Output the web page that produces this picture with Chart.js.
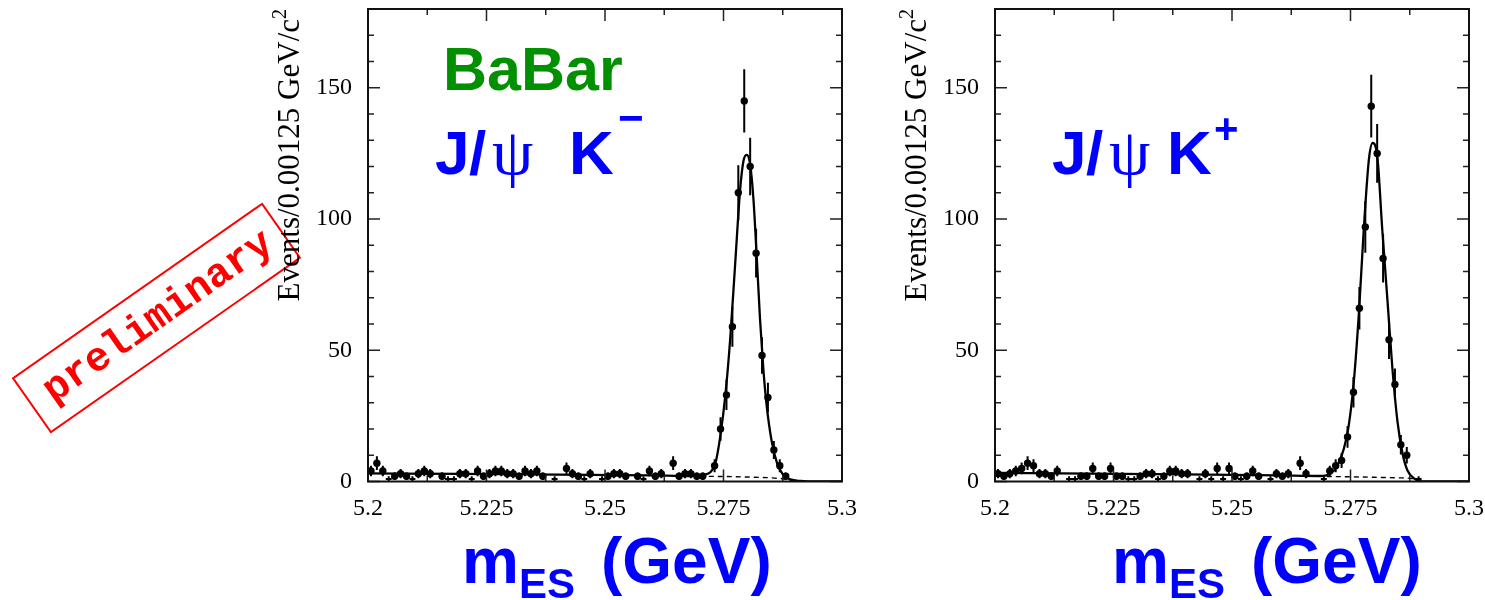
<!DOCTYPE html>
<html>
<head>
<meta charset="utf-8">
<script src="https://cdn.jsdelivr.net/npm/chart.js@4.4.1/dist/chart.umd.min.js"></script>
<style>
body { margin: 0; background: #fff; }
#page { position: relative; width: 1485px; height: 600px; overflow: hidden; background: #fff; }
canvas { position: absolute; top: 0; }
svg { position: absolute; left: 0; top: 0; }
</style>
</head>
<body>
<div id="page">
<canvas id="kminus" width="560" height="530" style="left:300px"></canvas>
<canvas id="kplus" width="560" height="530" style="left:927px"></canvas>
<svg width="1485" height="600">
  <!-- preliminary stamp -->
  <g transform="translate(156.5,318) rotate(-35)">
    <rect x="-152" y="-33" width="304" height="66" fill="none" stroke="#ff0000" stroke-width="2"/>
    <text x="2" y="11" text-anchor="middle" font-family="Liberation Mono" font-weight="bold" font-size="41" fill="#ff0000">preliminary</text>
  </g>
  <!-- axis titles -->
  <text transform="translate(299,9) rotate(-90)" text-anchor="end" font-family="Liberation Serif" font-size="31" fill="#000">Events/0.00125 GeV/c<tspan font-size="20" dy="-13">2</tspan></text>
  <text transform="translate(926,9) rotate(-90)" text-anchor="end" font-family="Liberation Serif" font-size="31" fill="#000">Events/0.00125 GeV/c<tspan font-size="20" dy="-13">2</tspan></text>
  <!-- labels -->
  <text x="443" y="90" font-family="Liberation Sans" font-weight="bold" font-size="61" fill="#009000">BaBar</text>
  <text font-family="Liberation Sans" font-weight="bold" font-size="62" fill="#0000ff"><tspan x="435" y="174">J</tspan><tspan x="469" y="174">/</tspan><tspan x="492" y="174" font-family="Liberation Serif" font-weight="normal" font-size="66">ψ</tspan><tspan x="569" y="174">K</tspan><tspan x="618" y="133" font-size="44">−</tspan></text>
  <text font-family="Liberation Sans" font-weight="bold" font-size="62" fill="#0000ff"><tspan x="1052" y="174">J</tspan><tspan x="1086" y="174">/</tspan><tspan x="1109" y="174" font-family="Liberation Serif" font-weight="normal" font-size="66">ψ</tspan><tspan x="1167" y="174">K</tspan><tspan x="1214" y="143" font-size="42">+</tspan></text>
  <text font-family="Liberation Sans" font-weight="bold" fill="#0000ff"><tspan x="462" y="583" font-size="64">m</tspan><tspan x="519" y="598" font-size="42">ES</tspan><tspan x="601" y="583" font-size="64">(GeV)</tspan></text>
  <text font-family="Liberation Sans" font-weight="bold" fill="#0000ff"><tspan x="1112" y="583" font-size="64">m</tspan><tspan x="1169" y="598" font-size="42">ES</tspan><tspan x="1251" y="583" font-size="64">(GeV)</tspan></text>
</svg>
</div>
<script>
// binning of mES, 80 bins of 0.00125 GeV
var binWidth = 0.00125;
var binCenters = [];
for (var i = 0; i < 80; i++) binCenters.push(5.2 + (i + 0.5) * binWidth);

var xTicks = [5.2, 5.225, 5.25, 5.275, 5.3];
var xTickLabels = ['5.2', '5.225', '5.25', '5.275', '5.3'];
var yTicks = [0, 50, 100, 150];
var yTickLabels = ['0', '50', '100', '150'];

// events per bin, J/psi K-
var countsKminus = [4, 7, 4, 1, 2, 3, 2, 1, 3, 4,
                    3, 0, 2, 1, 1, 3, 3, 1, 4, 2,
                    3, 4, 4, 3, 3, 2, 4, 3, 4, 2,
                    0, 1, 0, 5, 3, 2, 1, 3, 0, 1,
                    2, 3, 3, 2, 0, 2, 1, 4, 2, 3,
                    0, 7, 2, 3, 3, 2, 2, 0, 6, 20,
                    33, 59, 110, 145, 120, 87, 48, 32, 12, 6,
                    2, 0, 0, 0, 0, 0, 0, 0, 0, 0];
// events per bin, J/psi K+
var countsKplus = [3, 2, 3, 4, 5, 7, 6, 3, 3, 2,
                   4, 0, 1, 1, 2, 2, 5, 2, 2, 5,
                   2, 2, 1, 1, 2, 3, 3, 1, 2, 4,
                   4, 3, 3, 0, 1, 3, 1, 5, 1, 5,
                   2, 1, 2, 4, 2, 0, 1, 3, 2, 3,
                   0, 7, 3, 0, 0, 1, 4, 6, 8, 17,
                   34, 66, 97, 143, 125, 85, 54, 37, 14, 10,
                   0, 1, 0, 0, 0, 0, 0, 0, 0, 0];

// fit curves
var fitMassKminus = [5.2, 5.22, 5.24, 5.26, 5.268, 5.271, 5.2722, 5.2733, 5.2743, 5.2754, 5.2764, 5.2775, 5.2785, 5.2792, 5.2799,
                     5.2806, 5.2813, 5.282, 5.2827, 5.2834, 5.2841, 5.2852, 5.2863, 5.2876, 5.2891, 5.2912, 5.295, 5.3];
var fitKminus = [3.1, 2.9, 2.6, 2.3, 2.1, 2.6, 3.5, 7, 17, 33, 54, 84, 111, 122, 124.4,
                 121, 108, 86, 62, 43, 29, 15, 7, 2.5, 0.8, 0.2, 0, 0];
var bkgMassKminus = [5.27, 5.275, 5.28, 5.285, 5.2876, 5.289, 5.2895];
var bkgKminus = [2.0, 1.9, 1.7, 1.4, 1.0, 0.5, 0];

var fitMassKplus = [5.2, 5.22, 5.24, 5.26, 5.2686, 5.2708, 5.2722, 5.2736, 5.2746, 5.2757, 5.2768, 5.2778, 5.2789, 5.2797,
                    5.2807, 5.2817, 5.2828, 5.2838, 5.2849, 5.286, 5.287, 5.2884, 5.2905, 5.3];
var fitKplus = [3.3, 3.0, 2.7, 2.3, 2.1, 3, 6, 12.5, 21, 38, 65, 96, 123, 129,
                123, 96, 69, 44, 23, 10.5, 4.3, 1.2, 0, 0];
var bkgMassKplus = [5.27, 5.275, 5.28, 5.285, 5.288, 5.289, 5.2895];
var bkgKplus = [1.9, 1.8, 1.6, 1.4, 1.1, 0.6, 0];

var xMinorStep = 0.0125, xMajorStep = 0.025;
var yMinorStep = 10, yMajorStep = 50;

function xy(xs, ys) {
    return xs.map(function (x, i) { return { x: x, y: ys[i] }; });
}

// error bars + ROOT style frame with inward ticks
function histPlugin(counts) {
    return {
        id: 'hist',
        afterDatasetsDraw: function (chart) {
            var c = chart.ctx, xs = chart.scales.x, ys = chart.scales.y;
            c.save();
            c.strokeStyle = '#000';
            c.lineWidth = 2;
            c.beginPath();
            counts.forEach(function (n, i) {
                if (n <= 0) return;
                var px = xs.getPixelForValue(binCenters[i]);
                var e = Math.sqrt(n);
                c.moveTo(px, ys.getPixelForValue(n + e));
                c.lineTo(px, ys.getPixelForValue(Math.max(0, n - e)));
                var py = ys.getPixelForValue(n);
                c.moveTo(xs.getPixelForValue(binCenters[i] - binWidth / 2), py);
                c.lineTo(xs.getPixelForValue(binCenters[i] + binWidth / 2), py);
            });
            c.stroke();
            c.restore();
        },
        afterDraw: function (chart) {
            var c = chart.ctx, xs = chart.scales.x, ys = chart.scales.y, a = chart.chartArea;
            c.save();
            c.strokeStyle = '#222';
            c.lineWidth = 1.5;
            c.beginPath();
            var nx = Math.round((xs.max - xs.min) / xMinorStep);
            for (var k = 0; k <= nx; k++) {
                var v = xs.min + k * xMinorStep;
                var len = (k % Math.round(xMajorStep / xMinorStep) === 0) ? 12 : 6;
                var px = xs.getPixelForValue(v);
                c.moveTo(px, a.bottom); c.lineTo(px, a.bottom - len);
                c.moveTo(px, a.top); c.lineTo(px, a.top + len);
            }
            for (var y = 0; y <= ys.max; y += yMinorStep) {
                var l = (y % yMajorStep === 0) ? 12 : 6;
                var py = ys.getPixelForValue(y);
                c.moveTo(a.left, py); c.lineTo(a.left + l, py);
                c.moveTo(a.right, py); c.lineTo(a.right - l, py);
            }
            c.stroke();
            c.lineWidth = 2;
            c.strokeStyle = '#111';
            c.strokeRect(a.left, a.top, a.right - a.left, a.bottom - a.top);
            c.restore();
        }
    };
}

function makePanel(id, counts, fitX, fitY, bkgX, bkgY) {
    var ctx = document.getElementById(id).getContext('2d');
    return new Chart(ctx, {
        type: 'scatter',
        data: {
            datasets: [{
                data: xy(binCenters, counts),
                pointRadius: function (c) { return counts[c.dataIndex] >= 2 ? 3.7 : 0; },
                backgroundColor: '#000',
                borderWidth: 0,
                showLine: false
            }, {
                type: 'line',
                data: xy(fitX, fitY),
                borderColor: '#000',
                borderWidth: 2.3,
                pointRadius: 0,
                cubicInterpolationMode: 'monotone',
                fill: false
            }, {
                type: 'line',
                data: xy(bkgX, bkgY),
                borderColor: '#000',
                borderWidth: 1.4,
                borderDash: [5, 4],
                pointRadius: 0,
                cubicInterpolationMode: 'monotone',
                fill: false
            }]
        },
        options: {
            responsive: false,
            animation: false,
            events: [],
            layout: { padding: { left: 0, right: 18, top: 9, bottom: 8.5 } },
            plugins: { legend: { display: false }, tooltip: { enabled: false } },
            scales: {
                x: {
                    type: 'linear', min: 5.2, max: 5.3,
                    grid: { display: false, drawTicks: false },
                    border: { display: false },
                    afterBuildTicks: function (ax) { ax.ticks = xTicks.map(function (v) { return { value: v }; }); },
                    afterFit: function (ax) { ax.height = 40; ax.paddingLeft = 0; ax.paddingRight = 0; },
                    ticks: {
                        autoSkip: false, maxRotation: 0, padding: 13, color: '#000',
                        font: { family: 'Liberation Serif', size: 24 },
                        callback: function (v, i) { return xTickLabels[i]; }
                    }
                },
                y: {
                    min: 0, max: 180,
                    grid: { display: false, drawTicks: false },
                    border: { display: false },
                    afterBuildTicks: function (ax) { ax.ticks = yTicks.map(function (v) { return { value: v }; }); },
                    afterFit: function (ax) { ax.width = 68; ax.paddingTop = 0; ax.paddingBottom = 0; },
                    ticks: {
                        padding: 16, color: '#000',
                        font: { family: 'Liberation Serif', size: 24 },
                        callback: function (v, i) { return yTickLabels[i]; }
                    }
                }
            }
        },
        plugins: [histPlugin(counts)]
    });
}

var kminusChart = makePanel('kminus', countsKminus, fitMassKminus, fitKminus, bkgMassKminus, bkgKminus);
var kplusChart = makePanel('kplus', countsKplus, fitMassKplus, fitKplus, bkgMassKplus, bkgKplus);
</script>
</body>
</html>
